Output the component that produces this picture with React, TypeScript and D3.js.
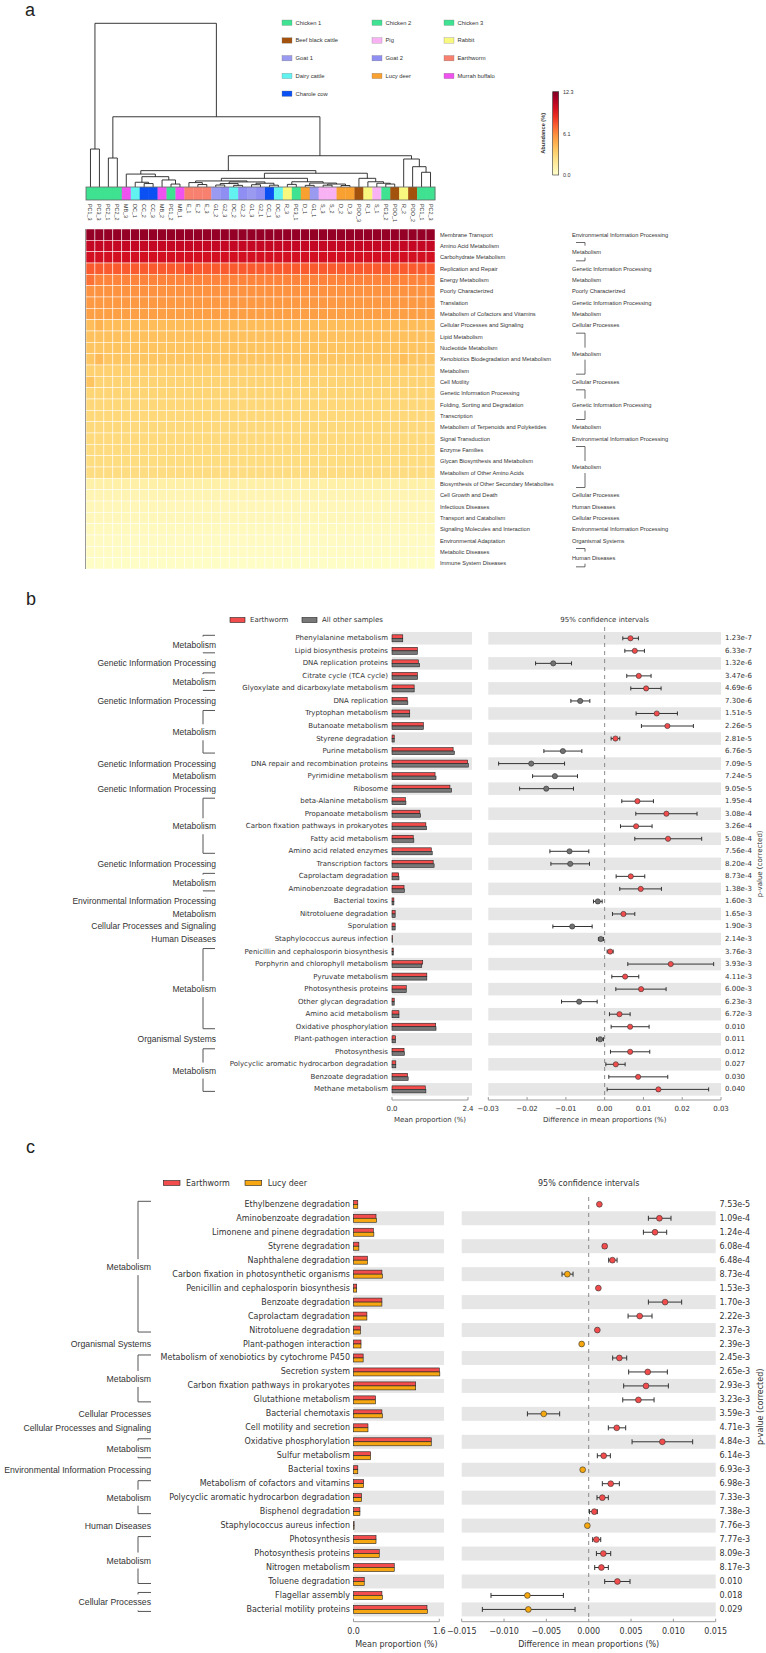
import React from 'react';
import * as d3 from 'd3';

// ---------------- Panel a data ----------------
const samples = ["PC1_3","PC3_3","PC2_1","PC2_2","MB_3","DC_1","CC_2","CC_3","MB_2","PC1_2","MB_1","E_1","E_2","E_3","G1_2","G2_3","DC_2","G2_2","G1_3","G2_1","CC_1","DC_3","R_3","PC3_1","D_1","G1_1","S_3","S_2","D_2","D_3","POO_3","R_1","S_1","PC3_2","POO_1","R_2","POO_2","PC1_1","PC2_3"];
const sampleGroups = ["Chicken 1","Chicken 3","Chicken 2","Chicken 2","Murrah buffalo","Dairy cattle","Charole cow","Charole cow","Murrah buffalo","Chicken 1","Murrah buffalo","Earthworm","Earthworm","Earthworm","Goat 1","Goat 2","Dairy cattle","Goat 2","Goat 1","Goat 2","Charole cow","Dairy cattle","Rabbit","Chicken 3","Lucy deer","Goat 1","Pig","Pig","Lucy deer","Lucy deer","Beef black cattle","Rabbit","Pig","Chicken 3","Beef black cattle","Rabbit","Beef black cattle","Chicken 1","Chicken 2"];
const legendGroups = ["Chicken 1","Chicken 2","Chicken 3","Beef black cattle","Pig","Rabbit","Goat 1","Goat 2","Earthworm","Dairy cattle","Lucy deer","Murrah buffalo","Charole cow"];
const legendColors = ["#3ee291","#3ee291","#3ee291","#a2520c","#f8b2f4","#f9f87e","#9a9af0","#8f8ff3","#f7806f","#62f3f0","#f8a030","#f052ef","#0b50f3"];
const pathways = ["Membrane Transport","Amino Acid Metabolism","Carbohydrate Metabolism","Replication and Repair","Energy Metabolism","Poorly Characterized","Translation","Metabolism of Cofactors and Vitamins","Cellular Processes and Signaling","Lipid Metabolism","Nucleotide Metabolism","Xenobiotics Biodegradation and Metabolism","Metabolism","Cell Motility","Genetic Information Processing","Folding, Sorting and Degradation","Transcription","Metabolism of Terpenoids and Polyketides","Signal Transduction","Enzyme Families","Glycan Biosynthesis and Metabolism","Metabolism of Other Amino Acids","Biosynthesis of Other Secondary Metabolites","Cell Growth and Death","Infectious Diseases","Transport and Catabolism","Signaling Molecules and Interaction","Environmental Adaptation","Metabolic Diseases","Immune System Diseases"];
const rowAbundance = [11.8,10.4,9.9,7.4,6.3,5.8,5.6,5.4,4.2,4.0,3.9,3.8,3.35,3.2,3.1,3.0,2.95,2.9,2.85,2.8,2.7,2.65,1.3,0.95,0.75,0.65,0.5,0.4,0.3,0.2];
const cellOverrides = [
  { row: 8, col: 1, v: 4.6 }, { row: 11, col: 1, v: 4.3 }, { row: 13, col: 0, v: 3.9 },
  { row: 11, col: 35, v: 4.1 }, { row: 3, col: 11, v: 7.9 }, { row: 4, col: 0, v: 6.8 }
];
const abundanceMax = 12.3;
const abundanceTicks = [0.0, 6.1, 12.3];
const pathwayCategories: [string, number, number][] = [
  ["Environmental Information Processing",0,0],["Metabolism",1,2],["Genetic Information Processing",3,3],["Metabolism",4,4],
  ["Poorly Characterized",5,5],["Genetic Information Processing",6,6],["Metabolism",7,7],["Cellular Processes",8,8],
  ["Metabolism",9,12],["Cellular Processes",13,13],["Genetic Information Processing",14,16],["Metabolism",17,17],
  ["Environmental Information Processing",18,18],["Metabolism",19,22],["Cellular Processes",23,23],["Human Diseases",24,24],
  ["Cellular Processes",25,25],["Environmental Information Processing",26,26],["Organismal Systems",27,27],["Human Diseases",28,29]
];
// dendrogram: [mergeHeight, left, right]; leaves are sample indices
type TreeNode = number | [number, TreeNode, TreeNode];
const dendrogram: TreeNode =
  [100,
    [23.2, 0, 1],
    [42.9,
      [17.7, 2, 3],
      [19.1,
        [10.0,
          [7.9, 4, [6.3, [2.9, 5, [2.1, 6, 7]], [4.3, 8, [1.8, 9, 10]]]],
          [8.4,
            [5.3,
              [3.7, [2.7, 11, [1.5, 12, 13]], [3.1, [2.1, [1.2, 14, 15], [1.0, 16, 17]], [2.3, [1.4, 18, 19], [1.1, 20, 21]]]],
              [3.2, [1.6, 22, 23], [2.4, [1.0, 24, 25], [1.8, [1.1, 26, 27], [0.9, 28, 29]]]]],
            [5.3, 30, [3.2, 31, [2.3, 32, [1.8, 33, 34]]]]]],
        [17.1, 35, [12.4, 36, [9.0, 37, 38]]]]]];

// ---------------- Panel b data ----------------
const bFeatures = ["Phenylalanine metabolism","Lipid biosynthesis proteins","DNA replication proteins","Citrate cycle (TCA cycle)","Glyoxylate and dicarboxylate metabolism","DNA replication","Tryptophan metabolism","Butanoate metabolism","Styrene degradation","Purine metabolism","DNA repair and recombination proteins","Pyrimidine metabolism","Ribosome","beta-Alanine metabolism","Propanoate metabolism","Carbon fixation pathways in prokaryotes","Fatty acid metabolism","Amino acid related enzymes","Transcription factors","Caprolactam degradation","Aminobenzoate degradation","Bacterial toxins","Nitrotoluene degradation","Sporulation","Staphylococcus aureus infection","Penicillin and cephalosporin biosynthesis","Porphyrin and chlorophyll metabolism","Pyruvate metabolism","Photosynthesis proteins","Other glycan degradation","Amino acid metabolism","Oxidative phosphorylation","Plant-pathogen interaction","Photosynthesis","Polycyclic aromatic hydrocarbon degradation","Benzoate degradation","Methane metabolism"];
const bEarthworm = [0.34,0.80,0.83,0.80,0.70,0.48,0.56,0.99,0.07,1.93,2.39,1.36,1.83,0.42,0.88,1.07,0.67,1.24,1.30,0.21,0.38,0.06,0.10,0.10,0.01,0.04,0.97,1.10,0.45,0.07,0.22,1.38,0.11,0.38,0.12,0.49,1.05];
const bOthers = [0.34,0.80,0.87,0.81,0.70,0.50,0.56,0.99,0.07,1.97,2.41,1.39,1.88,0.44,0.90,1.09,0.69,1.27,1.33,0.22,0.39,0.06,0.10,0.10,0.01,0.04,0.94,1.10,0.45,0.07,0.22,1.39,0.11,0.39,0.12,0.51,1.07];
const bDiff = [0.00665,0.00777,-0.01326,0.0088,0.01069,-0.00631,0.01343,0.01618,0.00279,-0.01077,-0.01893,-0.01283,-0.01506,0.00845,0.01592,0.00811,0.01635,-0.00906,-0.00888,0.00674,0.00931,-0.00176,0.00485,-0.00837,-0.00099,0.00142,0.01704,0.00528,0.0094,-0.00657,0.00382,0.00657,-0.00116,0.00657,0.00288,0.00863,0.01386];
const bLow = [0.00468,0.0052,-0.01781,0.0057,0.00674,-0.00871,0.00811,0.00948,0.00167,-0.01567,-0.02734,-0.01858,-0.02193,0.00442,0.00803,0.00408,0.00777,-0.01412,-0.01386,0.00296,0.0039,-0.00288,0.00202,-0.01335,-0.0016,0.00064,0.00597,0.00185,0.00288,-0.01112,0.00124,0.00167,-0.0021,0.0015,0.0003,0.00107,0.00064];
const bHigh = [0.00871,0.01026,-0.00854,0.01197,0.01455,-0.00382,0.01876,0.02288,0.0039,-0.00588,-0.01034,-0.007,-0.00803,0.01258,0.02382,0.01223,0.02502,-0.00408,-0.00391,0.01034,0.01464,-0.00064,0.00777,-0.00322,-0.0003,0.00219,0.02811,0.0088,0.01584,-0.00193,0.00657,0.01146,-0.0003,0.01163,0.00528,0.01627,0.02682];
const bPvalues = ["1.23e-7","6.33e-7","1.32e-6","3.47e-6","4.69e-6","7.30e-6","1.51e-5","2.26e-5","2.81e-5","6.76e-5","7.09e-5","7.24e-5","9.05e-5","1.95e-4","3.08e-4","3.26e-4","5.08e-4","7.56e-4","8.20e-4","8.73e-4","1.38e-3","1.60e-3","1.65e-3","1.90e-3","2.14e-3","3.76e-3","3.93e-3","4.11e-3","6.00e-3","6.23e-3","6.72e-3","0.010","0.011","0.012","0.027","0.030","0.040"];
const bCategories: [string, number, number][] = [
  ["Metabolism",0,1],["Genetic Information Processing",2,2],["Metabolism",3,4],["Genetic Information Processing",5,5],
  ["Metabolism",6,9],["Genetic Information Processing",10,10],["Metabolism",11,11],["Genetic Information Processing",12,12],
  ["Metabolism",13,17],["Genetic Information Processing",18,18],["Metabolism",19,20],["Environmental Information Processing",21,21],
  ["Metabolism",22,22],["Cellular Processes and Signaling",23,23],["Human Diseases",24,24],["Metabolism",25,31],
  ["Organismal Systems",32,32],["Metabolism",33,36]
];
const bBarTicks = [0, 2.4];
const bCiTicks = [-0.03,-0.02,-0.01,0,0.01,0.02,0.03];

// ---------------- Panel c data ----------------
const cFeatures = ["Ethylbenzene degradation","Aminobenzoate degradation","Limonene and pinene degradation","Styrene degradation","Naphthalene degradation","Carbon fixation in photosynthetic organisms","Penicillin and cephalosporin biosynthesis","Benzoate degradation","Caprolactam degradation","Nitrotoluene degradation","Plant-pathogen interaction","Metabolism of xenobiotics by cytochrome P450","Secretion system","Carbon fixation pathways in prokaryotes","Glutathione metabolism","Bacterial chemotaxis","Cell motility and secretion","Oxidative phosphorylation","Sulfur metabolism","Bacterial toxins","Metabolism of cofactors and vitamins","Polycyclic aromatic hydrocarbon degradation","Bisphenol degradation","Staphylococcus aureus infection","Photosynthesis","Photosynthesis proteins","Nitrogen metabolism","Toluene degradation","Flagellar assembly","Bacterial motility proteins"];
const cEarthworm = [0.08,0.42,0.37,0.10,0.26,0.53,0.06,0.53,0.25,0.13,0.14,0.18,1.60,1.16,0.41,0.53,0.27,1.45,0.32,0.08,0.19,0.15,0.12,0.01,0.42,0.48,0.76,0.20,0.53,1.37];
const cLucy = [0.08,0.43,0.38,0.10,0.26,0.54,0.06,0.53,0.25,0.13,0.14,0.18,1.61,1.16,0.41,0.54,0.27,1.45,0.32,0.08,0.19,0.15,0.12,0.01,0.42,0.48,0.76,0.20,0.54,1.38];
const cDiff = [0.00126,0.00835,0.00783,0.00189,0.0028,-0.00252,0.00114,0.00902,0.00602,0.00102,-0.00083,0.00362,0.00697,0.00677,0.00587,-0.00531,0.00331,0.0087,0.00177,-0.00071,0.0026,0.00161,0.00067,-0.00016,0.00091,0.00173,0.0015,0.00339,-0.00724,-0.00713];
const cLow = [0.00116,0.00705,0.00646,0.00169,0.00236,-0.00315,0.00104,0.00705,0.00465,0.00092,-0.00093,0.00283,0.00472,0.00413,0.00402,-0.00724,0.00232,0.00512,0.00102,-0.00081,0.00161,0.00098,0.0001,-0.00021,0.00047,0.00091,0.00071,0.00189,-0.01154,-0.01256];
const cHigh = [0.00136,0.00972,0.00921,0.00209,0.00335,-0.00185,0.00124,0.01098,0.00748,0.00112,-0.00073,0.00449,0.00929,0.00941,0.00772,-0.00343,0.00437,0.01228,0.00256,-0.00061,0.00362,0.00232,0.00102,-0.00011,0.00142,0.0026,0.00232,0.00488,-0.00299,-0.00161];
const cPvalues = ["7.53e-5","1.09e-4","1.24e-4","6.08e-4","6.48e-4","8.73e-4","1.53e-3","1.70e-3","2.22e-3","2.37e-3","2.39e-3","2.45e-3","2.65e-3","2.93e-3","3.23e-3","3.59e-3","4.71e-3","4.84e-3","6.14e-3","6.93e-3","6.98e-3","7.33e-3","7.38e-3","7.76e-3","7.77e-3","8.09e-3","8.17e-3","0.010","0.018","0.029"];
const cCategories: [string, number, number][] = [
  ["Metabolism",0,9],["Organismal Systems",10,10],["Metabolism",11,14],["Cellular Processes",15,15],
  ["Cellular Processes and Signaling",16,16],["Metabolism",17,18],["Environmental Information Processing",19,19],
  ["Metabolism",20,22],["Human Diseases",23,23],["Metabolism",24,27],["Cellular Processes",28,29]
];
const cBarTicks = [0, 1.6];
const cCiTicks = [-0.015,-0.01,-0.005,0,0.005,0.01,0.015];

const SANS = "'Liberation Sans', Arial, sans-serif";
const DJV = "'DejaVu Sans', sans-serif";
const TXT = "#333";

// ---------------- Panel a ----------------
function PanelA() {
  const colX = d3.scaleBand<string>().domain(samples).range([86, 435]);
  const rowY = d3.scaleBand<string>().domain(pathways).range([229, 569]);
  const bw = colX.bandwidth();
  const bh = rowY.bandwidth();
  const color = d3.scaleSequential(d3.interpolateYlOrRd).domain([0, abundanceMax]);
  const yDist = d3.scaleLinear().domain([0, 100]).range([187, 23.3]);
  const stripTop = 187, stripBot = 200;
  const segs: string[] = [];
  const lay = (node: TreeNode): { x: number; y: number } => {
    if (typeof node === 'number') return { x: (colX(samples[node]) as number) + bw / 2, y: stripTop };
    const [h, l, r] = node;
    const a = lay(l), b = lay(r);
    const y = yDist(h);
    segs.push(`M${a.x},${a.y}V${y}H${b.x}V${b.y}`);
    return { x: (a.x + b.x) / 2, y };
  };
  lay(dendrogram);
  const cellVal = (r: number, c: number) => {
    const o = cellOverrides.find(d => d.row === r && d.col === c);
    return o ? o.v : rowAbundance[r];
  };
  const rc = (i: number) => (rowY(pathways[i]) as number) + bh / 2;
  const legCols = [282, 372, 444];
  const legRow = d3.scaleLinear().domain([0, 4]).range([22.7, 93.7]);
  const cbY = d3.scaleLinear().domain([0, abundanceMax]).range([175, 91.7]);
  const stops = d3.range(0, 1.0001, 0.1);
  return (
    <g>
      <text x={25} y={16} fontFamily={SANS} fontSize={18} fill="#222">a</text>
      <path d={segs.join('')} fill="none" stroke="#222" strokeWidth={0.9} />
      {samples.map((s, i) => (
        <rect key={s} x={colX(s)} y={stripTop} width={bw + 0.3} height={stripBot - stripTop}
          fill={legendColors[legendGroups.indexOf(sampleGroups[i])]} />
      ))}
      <rect x={86} y={stripTop} width={349} height={stripBot - stripTop} fill="none" stroke="#666" strokeWidth={0.8} />
      {samples.map(s => (
        <text key={s} transform={`translate(${(colX(s) as number) + bw / 2},204) rotate(90)`}
          fontFamily={SANS} fontSize={5.4} fill={TXT} dominantBaseline="central">{s}</text>
      ))}
      {pathways.map((p, r) => samples.map((s, c) => (
        <rect key={p + s} x={colX(s)} y={rowY(p)} width={bw} height={bh}
          fill={color(cellVal(r, c))} stroke="#fff" strokeWidth={0.5} />
      )))}
      <line x1={85.5} x2={85.5} y1={229} y2={569} stroke="#999" strokeWidth={1} />
      {pathways.map((p, i) => (
        <text key={p} x={440} y={rc(i)} fontFamily={SANS} fontSize={5.7} fill={TXT} dominantBaseline="central">{p}</text>
      ))}
      {pathwayCategories.map(([lab, f, l], k) => {
        const mid = (rc(f) + rc(l)) / 2;
        const top = rc(f) - 3.5, bot = rc(l) + 3.5;
        return (
          <g key={k}>
            <text x={572} y={mid} fontFamily={SANS} fontSize={5.7} fill={TXT} dominantBaseline="central">{lab}</text>
            {l > f && <path d={`M576,${top}H585V${mid - 6}M585,${mid + 6}V${bot}H576`} fill="none" stroke="#444" strokeWidth={0.8} />}
          </g>
        );
      })}
      {legendGroups.map((g, i) => {
        const x = legCols[i % 3], y = legRow(Math.floor(i / 3));
        return (
          <g key={g}>
            <rect x={x} y={y - 2.7} width={10} height={5.4} fill={legendColors[i]} stroke="#777" strokeWidth={0.3} />
            <text x={x + 13.5} y={y} fontFamily={SANS} fontSize={5.8} fill={TXT} dominantBaseline="central">{g}</text>
          </g>
        );
      })}
      <defs>
        <linearGradient id="abgrad" x1="0" y1="1" x2="0" y2="0">
          {stops.map(t => <stop key={t} offset={t} stopColor={d3.interpolateYlOrRd(t)} />)}
        </linearGradient>
      </defs>
      <rect x={552.7} y={cbY(abundanceMax)} width={6} height={cbY(0) - cbY(abundanceMax)} fill="url(#abgrad)" stroke="#333" strokeWidth={0.6} />
      {abundanceTicks.map(t => (
        <text key={t} x={563} y={cbY(t)} fontFamily={SANS} fontSize={5.4} fill={TXT} dominantBaseline="central">{t.toFixed(1)}</text>
      ))}
      <text transform={`translate(543,${cbY(abundanceMax / 2)}) rotate(-90)`} textAnchor="middle" dominantBaseline="central"
        fontFamily={SANS} fontSize={5.6} fontWeight="bold" fill={TXT}>Abundance (%)</text>
    </g>
  );
}

// ---------------- STAMP panels ----------------
type StampCfg = {
  features: string[]; v1: number[]; v2: number[]; diff: number[]; lo: number[]; hi: number[]; pv: string[];
  cats: [string, number, number][]; barTicks: number[]; ciTicks: number[]; ciFmt: (v: number) => string;
  name1: string; name2: string; col1: string; col2: string; dot2: string;
  y0: number; rowH: number; barH: number; labelRight: number; catRight: number; brX: number; brTick: number; brGap: number;
  barRange: [number, number]; stripeBarEnd: number; ciRange: [number, number]; ciDomain: [number, number];
  pvX: number; pLabX: number; axisY: number; tickLabY: number; titleY: number; zeroTop: number;
  legY: number; leg1X: number; leg2X: number; legBoxW: number; legTxtGap: number;
  font: number; catFont: number; dotR: number; capH: number; stripeParity: number; letter: string; letterY: number;
};

function Stamp({ c }: { c: StampCfg }) {
  const n = c.features.length;
  const y = d3.scaleBand<string>().domain(c.features).range([c.y0 - c.rowH / 2, c.y0 + (n - 0.5) * c.rowH]);
  const cy = (i: number) => (y(c.features[i]) as number) + y.bandwidth() / 2;
  const bx = d3.scaleLinear().domain([c.barTicks[0], c.barTicks[c.barTicks.length - 1]]).range(c.barRange);
  const cx = d3.scaleLinear().domain(c.ciDomain).range(c.ciRange);
  const firstRow = cy(0), lastRow = cy(n - 1);
  return (
    <g>
      <text x={26} y={c.letterY} fontFamily={SANS} fontSize={18} fill="#222">{c.letter}</text>
      <rect x={c.leg1X} y={c.legY - 2.5} width={c.legBoxW} height={5} fill={c.col1} stroke="#222" strokeWidth={0.6} />
      <text x={c.leg1X + c.legBoxW + c.legTxtGap} y={c.legY} fontFamily={DJV} fontSize={c.font} fill={TXT} dominantBaseline="central">{c.name1}</text>
      <rect x={c.leg2X} y={c.legY - 2.5} width={c.legBoxW} height={5} fill={c.col2} stroke="#222" strokeWidth={0.6} />
      <text x={c.leg2X + c.legBoxW + c.legTxtGap} y={c.legY} fontFamily={DJV} fontSize={c.font} fill={TXT} dominantBaseline="central">{c.name2}</text>
      <text x={cx(0)} y={c.legY} textAnchor="middle" fontFamily={DJV} fontSize={c.font} fill={TXT} dominantBaseline="central">95% confidence intervals</text>
      {c.features.map((f, i) => i % 2 === c.stripeParity ? (
        <g key={'s' + i}>
          <rect x={bx(0)} y={y(f)} width={c.stripeBarEnd - bx(0)} height={y.bandwidth()} fill="#e6e6e6" />
          <rect x={c.ciRange[0]} y={y(f)} width={c.ciRange[1] - c.ciRange[0]} height={y.bandwidth()} fill="#e6e6e6" />
        </g>
      ) : null)}
      {c.features.map((f, i) => (
        <text key={'l' + i} x={c.labelRight} y={cy(i)} textAnchor="end" fontFamily={DJV} fontSize={c.font} fill={TXT} dominantBaseline="central">{f}</text>
      ))}
      {c.features.map((f, i) => (
        <g key={'b' + i}>
          <rect x={bx(0)} y={cy(i) - c.barH} width={Math.max(0.6, bx(c.v1[i]) - bx(0))} height={c.barH} fill={c.col1} stroke="#222" strokeWidth={0.6} />
          <rect x={bx(0)} y={cy(i)} width={Math.max(0.6, bx(c.v2[i]) - bx(0))} height={c.barH} fill={c.col2} stroke="#222" strokeWidth={0.6} />
        </g>
      ))}
      <line x1={cx(0)} x2={cx(0)} y1={c.zeroTop} y2={c.axisY} stroke="#8a8a8a" strokeWidth={1} strokeDasharray="4,4" />
      {c.features.map((f, i) => {
        const yy = cy(i);
        const pos = c.diff[i] > 0;
        return (
          <g key={'c' + i}>
            <line x1={cx(c.lo[i])} x2={cx(c.hi[i])} y1={yy} y2={yy} stroke="#333" strokeWidth={1} />
            <line x1={cx(c.lo[i])} x2={cx(c.lo[i])} y1={yy - c.capH / 2} y2={yy + c.capH / 2} stroke="#333" strokeWidth={1} />
            <line x1={cx(c.hi[i])} x2={cx(c.hi[i])} y1={yy - c.capH / 2} y2={yy + c.capH / 2} stroke="#333" strokeWidth={1} />
            <circle cx={cx(c.diff[i])} cy={yy} r={c.dotR} fill={pos ? c.col1 : c.dot2} stroke="#333" strokeWidth={0.6} />
          </g>
        );
      })}
      {c.pv.map((p, i) => (
        <text key={'p' + i} x={c.pvX} y={cy(i)} fontFamily={DJV} fontSize={c.font} fill={TXT} dominantBaseline="central">{p}</text>
      ))}
      <text transform={`translate(${c.pLabX},${(firstRow + lastRow) / 2}) rotate(-90)`} textAnchor="middle" dominantBaseline="central"
        fontFamily={DJV} fontSize={c.font} fill={TXT}>p-value (corrected)</text>
      {c.cats.map(([lab, f, l], k) => {
        const mid = (cy(f) + cy(l)) / 2;
        const t = cy(f) - 3, b = cy(l) + 2;
        return (
          <g key={'g' + k}>
            <text x={c.catRight} y={mid} textAnchor="end" fontFamily={SANS} fontSize={c.catFont} fill={TXT} dominantBaseline="central">{lab}</text>
            {l > f && <path d={`M${c.brX + c.brTick},${t}H${c.brX}V${mid - c.brGap}M${c.brX},${mid + c.brGap}V${b}H${c.brX + c.brTick}`}
              fill="none" stroke="#555" strokeWidth={1} />}
          </g>
        );
      })}
      <line x1={bx.range()[0]} x2={bx.range()[1]} y1={c.axisY} y2={c.axisY} stroke="#999" strokeWidth={1} />
      {c.barTicks.map(t => (
        <g key={'bt' + t}>
          <line x1={bx(t)} x2={bx(t)} y1={c.axisY} y2={c.axisY - 3} stroke="#999" strokeWidth={1} />
          <text x={bx(t)} y={c.tickLabY} textAnchor="middle" fontFamily={DJV} fontSize={c.font} fill={TXT} dominantBaseline="central">{t.toFixed(1)}</text>
        </g>
      ))}
      <text x={(bx.range()[0] + bx.range()[1]) / 2} y={c.titleY} textAnchor="middle" fontFamily={DJV} fontSize={c.font} fill={TXT} dominantBaseline="central">Mean proportion (%)</text>
      <line x1={c.ciRange[0]} x2={c.ciRange[1]} y1={c.axisY} y2={c.axisY} stroke="#999" strokeWidth={1} />
      {c.ciTicks.map(t => (
        <g key={'ct' + t}>
          <line x1={cx(t)} x2={cx(t)} y1={c.axisY} y2={c.axisY - 3} stroke="#999" strokeWidth={1} />
          <text x={cx(t)} y={c.tickLabY} textAnchor="middle" fontFamily={DJV} fontSize={c.font} fill={TXT} dominantBaseline="central">{c.ciFmt(t)}</text>
        </g>
      ))}
      <text x={cx(0)} y={c.titleY} textAnchor="middle" fontFamily={DJV} fontSize={c.font} fill={TXT} dominantBaseline="central">Difference in mean proportions (%)</text>
    </g>
  );
}

const RED = "#f24c4c";
const bCfg: StampCfg = {
  features: bFeatures, v1: bEarthworm, v2: bOthers, diff: bDiff, lo: bLow, hi: bHigh, pv: bPvalues,
  cats: bCategories, barTicks: bBarTicks, ciTicks: bCiTicks, ciFmt: d3.format(".2f"),
  name1: "Earthworm", name2: "All other samples", col1: RED, col2: "#787878", dot2: "#717171",
  y0: 638.3, rowH: 12.53, barH: 3.5, labelRight: 388, catRight: 216, brX: 203, brTick: 12, brGap: 8,
  barRange: [392, 468], stripeBarEnd: 472, ciRange: [488.3, 721], ciDomain: [-0.03, 0.03],
  pvX: 725, pLabX: 760, axisY: 1100, tickLabY: 1108.5, titleY: 1120, zeroTop: 627,
  legY: 620, leg1X: 230, leg2X: 302, legBoxW: 15, legTxtGap: 5,
  font: 7, catFont: 8.5, dotR: 2.6, capH: 4, stripeParity: 0, letter: "b", letterY: 605
};
const cCfg: StampCfg = {
  features: cFeatures, v1: cEarthworm, v2: cLucy, diff: cDiff, lo: cLow, hi: cHigh, pv: cPvalues,
  cats: cCategories, barTicks: cBarTicks, ciTicks: cCiTicks, ciFmt: d3.format(".3f"),
  name1: "Earthworm", name2: "Lucy deer", col1: RED, col2: "#f7a712", dot2: "#f7a80e",
  y0: 1204.3, rowH: 13.97, barH: 4, labelRight: 350, catRight: 151, brX: 138, brTick: 13, brGap: 8,
  barRange: [353.5, 439.3], stripeBarEnd: 444, ciRange: [461.7, 715.7], ciDomain: [-0.015, 0.015],
  pvX: 719.5, pLabX: 760, axisY: 1621.7, tickLabY: 1631.7, titleY: 1644, zeroTop: 1197,
  legY: 1183, leg1X: 163.3, leg2X: 245, legBoxW: 16.7, legTxtGap: 6,
  font: 8, catFont: 8.7, dotR: 2.9, capH: 5, stripeParity: 1, letter: "c", letterY: 1153
};

export default function App() {
  return (
    <svg width={766} height={1653} viewBox="0 0 766 1653" style={{ position: 'absolute', left: 0, top: 0, display: 'block' }}>
      <rect x={0} y={0} width={766} height={1653} fill="#fff" />
      <PanelA />
      <Stamp c={bCfg} />
      <Stamp c={cCfg} />
    </svg>
  );
}
